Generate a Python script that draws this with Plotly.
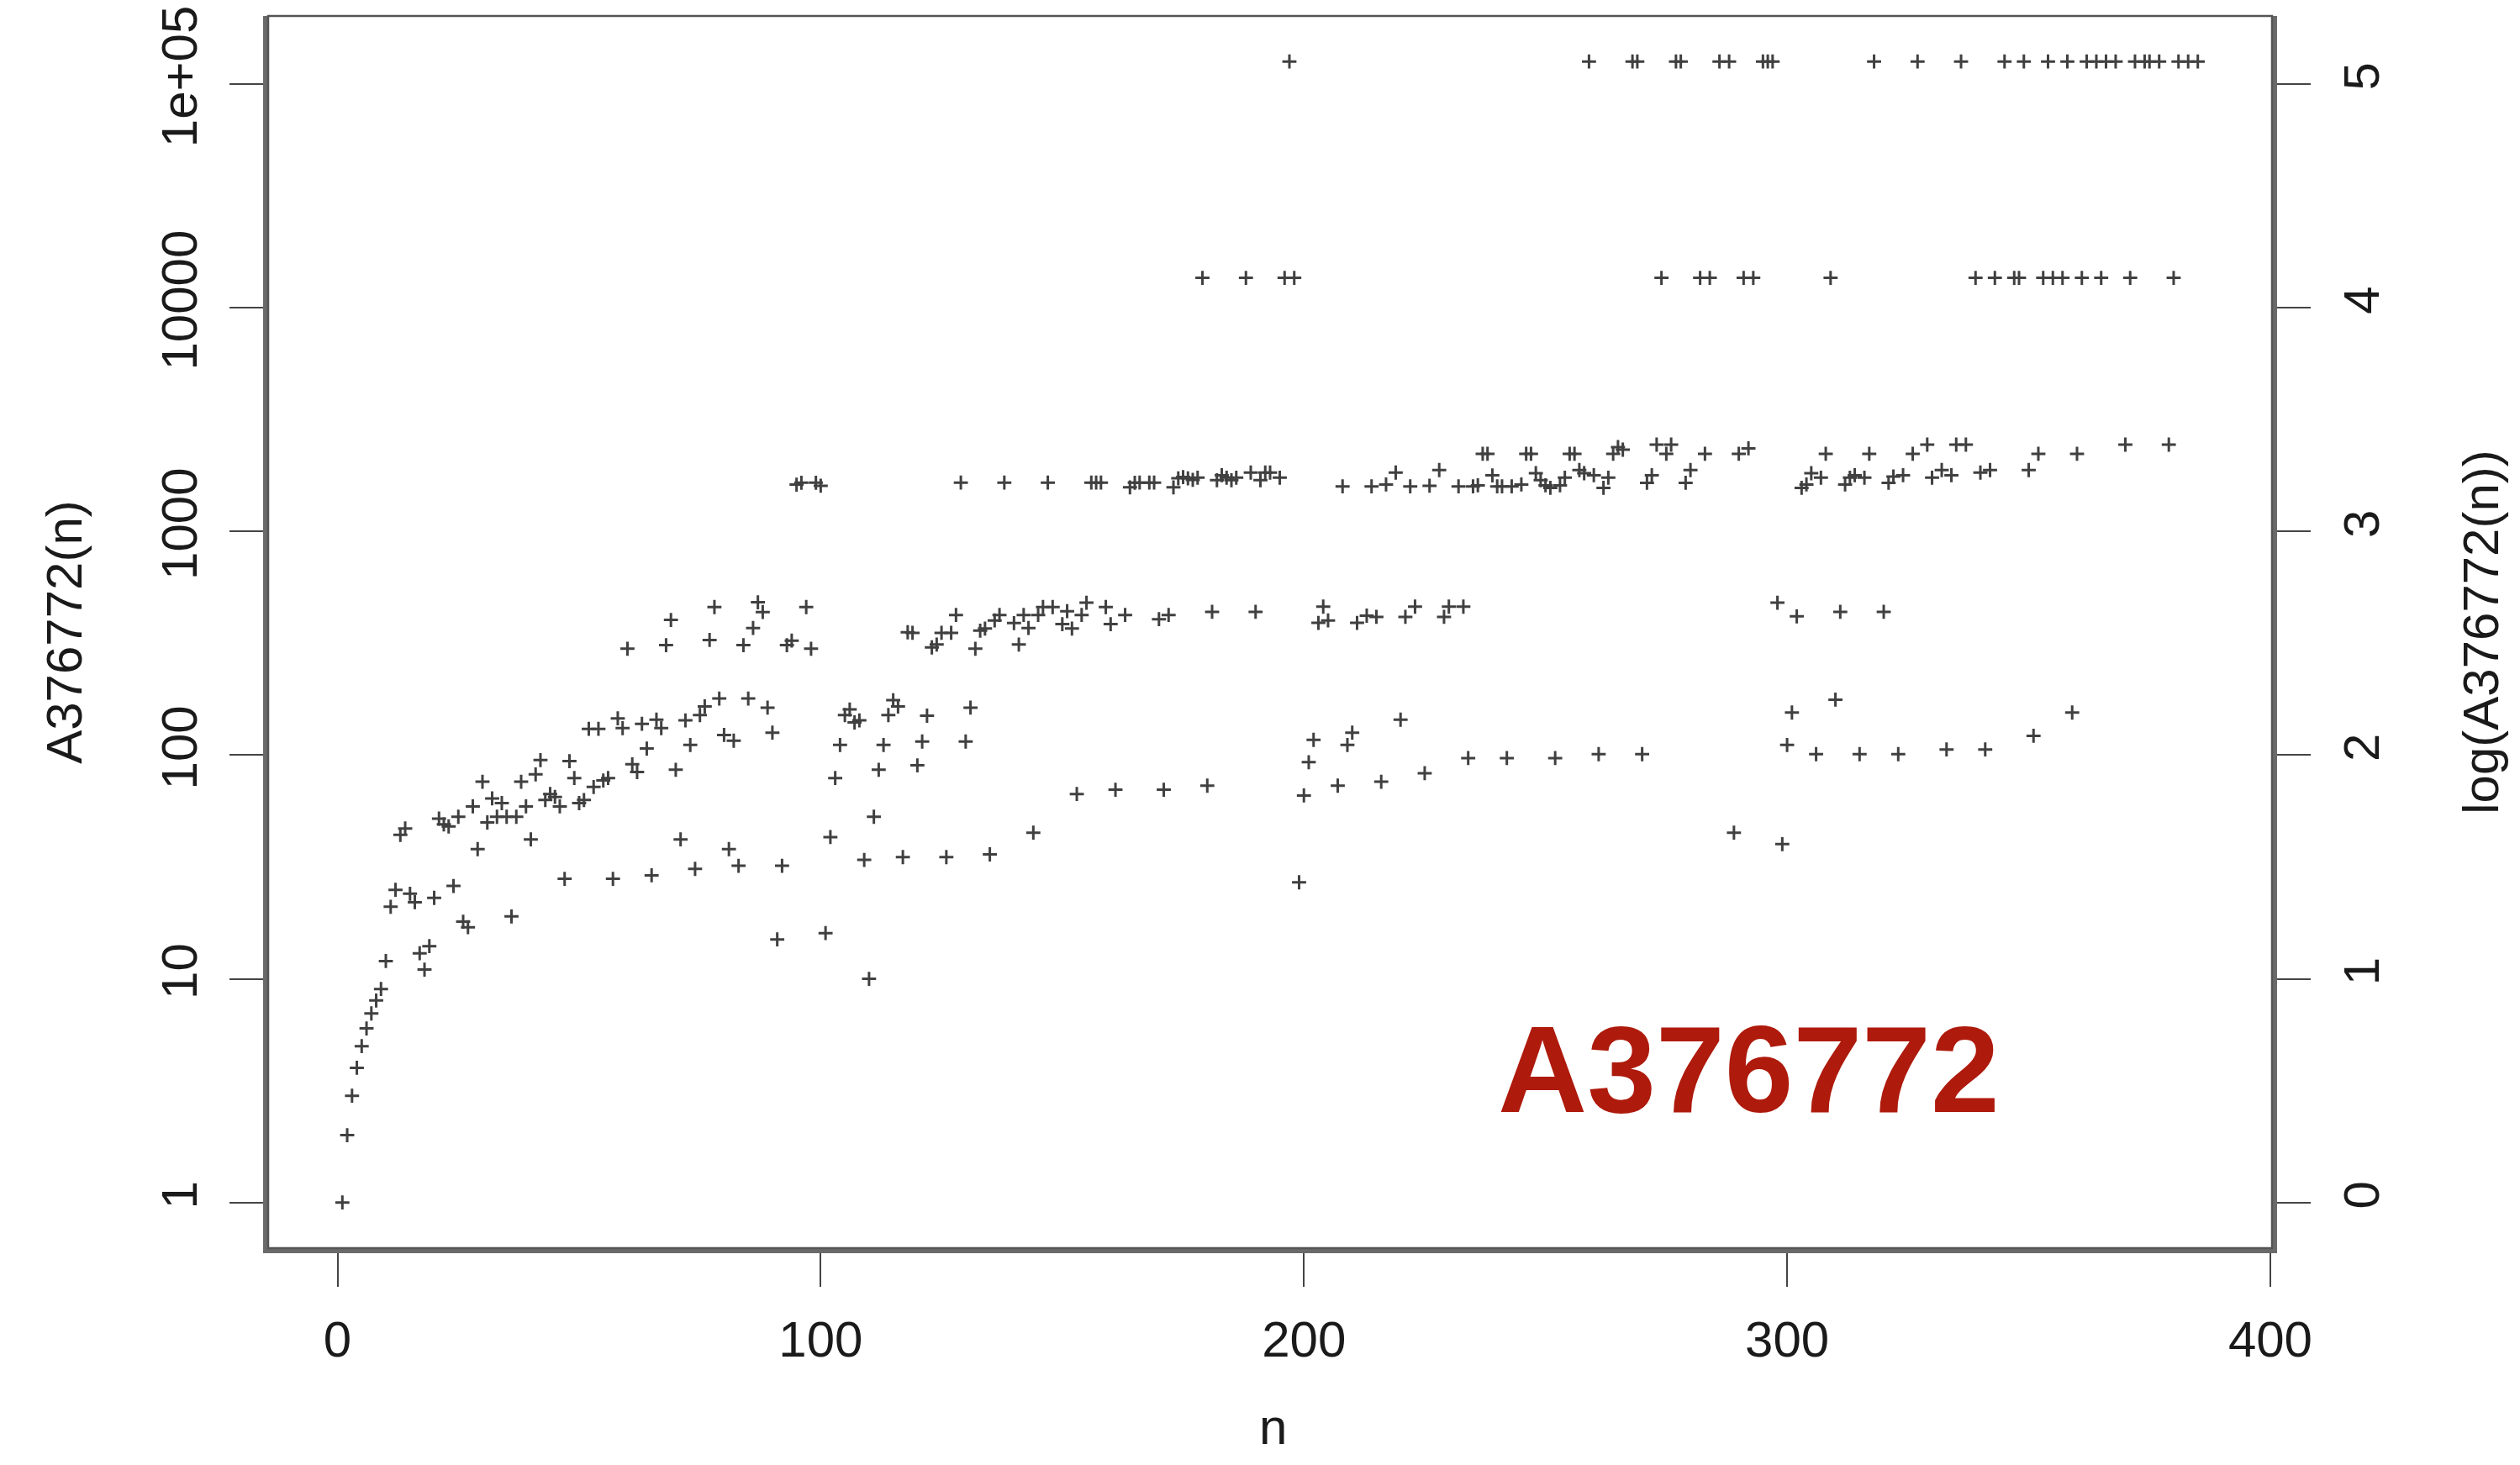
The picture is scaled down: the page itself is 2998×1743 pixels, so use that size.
import plotly.graph_objects as go

# Index n and value A376772(n)
n_index = [
    1, 2, 3, 4, 5, 6, 7, 8, 9, 10, 11, 12, 13, 14, 15, 16, 17, 18, 19, 20,
    21, 22, 23, 24, 25, 26, 27, 28, 29, 30, 31, 32, 33, 34, 35, 36, 37, 38, 39, 40,
    41, 42, 43, 44, 45, 46, 47, 48, 49, 50, 51, 52, 53, 54, 55, 56, 57, 58, 59, 60,
    61, 62, 63, 64, 65, 66, 67, 68, 69, 70, 71, 72, 73, 74, 75, 76, 77, 78, 79, 80,
    81, 82, 83, 84, 85, 86, 87, 88, 89, 90, 91, 92, 93, 94, 95, 96, 97, 98, 99, 100,
    101, 102, 103, 104, 105, 106, 107, 108, 109, 110, 111, 112, 113, 114, 115, 116, 117, 118,
    119, 120, 121, 122, 123, 124, 125, 126, 127, 128, 129, 130, 131, 132, 133, 134, 135, 136, 137, 138,
    140, 141, 142, 143, 144, 145, 146, 147, 148, 150, 151, 152, 153, 154, 155, 156, 157, 158, 159, 160,
    161, 163, 164, 165, 166, 168, 169, 170, 171, 172, 173, 174, 175, 176, 177, 178, 179, 180,
    181, 182, 183, 184, 185, 186, 188, 189, 190, 191, 192, 193, 195, 196, 197, 198, 199, 200,
    201, 202, 203, 204, 205, 207, 208, 209, 210, 211, 213, 214, 215, 216, 217, 219, 220,
    221, 222, 223, 225, 226, 228, 229, 230, 232, 233, 234, 235,
    236, 237, 238, 239, 240, 241, 242, 243, 245, 246, 247, 248, 249, 250, 251, 252, 253, 254, 255, 256,
    257, 258, 259, 260, 261, 262, 263, 264, 265, 266, 268, 269, 270, 271, 272, 273, 274, 275, 276, 277,
    278, 279, 280, 282, 283, 284, 286, 288, 289, 290, 291, 292, 293, 295, 296, 297,
    298, 299, 300, 301, 302, 303, 304, 305, 306, 307, 308, 309, 310, 311, 312, 313, 314, 315, 316, 317,
    318, 320, 321, 322, 323, 324, 326, 327, 329, 330, 332, 333, 334, 335, 336, 337, 339, 340, 341, 342,
    343, 345, 347, 348, 349, 350, 351, 352, 353, 354, 355, 357, 358, 359, 360, 361, 362, 364, 365, 366,
    368, 370, 371, 372, 374, 375, 377, 379, 380, 381, 383, 385,
]

a_value = [
    1, 2, 3, 4, 5, 6, 7, 8, 9, 12, 21, 25, 44, 47, 24, 22, 13, 11, 14, 23,
    52, 49, 48, 26, 53, 18, 17, 59, 38, 76, 50, 64, 53, 61, 53, 19, 53, 76, 59, 42,
    82, 95, 63, 67, 65, 59, 28, 94, 79, 61, 63, 131, 72, 131, 77, 79, 28, 146, 132, 299,
    91, 84, 138, 107, 29, 144, 132, 310, 402, 86, 42, 143, 111, 31, 151, 165, 327, 459, 179, 123,
    38, 116, 32, 310, 179, 370, 482, 436, 163, 126, 15, 32, 310, 325, 1618, 1650, 459, 299, 1650, 1600,
    16, 43, 79, 111, 151, 160, 140, 143, 34, 10, 53, 86, 111, 151, 176, 165, 35, 354,
    352, 90, 115, 150, 303, 312, 352, 35, 352, 423, 1652, 115, 163, 299, 360, 368, 36, 400, 423, 1652,
    389, 312, 423, 370, 45, 423, 459, 1652, 459, 385, 440, 368, 67, 423, 480, 1652, 1652, 1652, 459, 385,
    70, 423, 1573, 1650, 1652, 1652, 1652, 405, 70, 423, 1573, 1727, 1750, 1727, 1700, 1738, 13590, 73,
    437, 1693, 1783, 1738, 1693, 1738, 13590, 1832, 437, 1693, 1832, 1832, 1738, 13590, 126000, 13590, 27, 66,
    93, 117, 390, 461, 400, 73, 1589, 111, 126, 390, 420, 1589, 415, 76, 1620, 1832, 144,
    415, 1589, 461, 83, 1600, 1880, 415, 461, 1589, 461, 97, 1589,
    1606, 2223, 2223, 1780, 1589, 1589, 97, 1589, 1620, 2223, 2223, 1820, 1693, 1606, 1565, 97, 1606, 1738, 2223, 2223,
    1880, 1820, 126000, 1783, 101, 1565, 1738, 2223, 2382, 2319, 126000, 126000, 101, 1649, 1783, 2443, 13590, 2223, 2443, 126000,
    126000, 1649, 1880, 13590, 2223, 13590, 126000, 126000, 45, 2223, 13590, 2350, 13590, 126000, 126000, 126000,
    480, 40, 111, 155, 417, 1565, 1620, 1820, 101, 1738, 2223, 13590, 177, 437, 1620, 1738, 1783, 101, 1738, 2223,
    126000, 437, 1649, 1760, 101, 1783, 2223, 126000, 2443, 1738, 1880, 106, 1783, 2443, 126000, 2443, 13590, 1832, 106, 1880,
    13590, 126000, 13590, 13590, 126000, 1880, 122, 2223, 13590, 126000, 13590, 13590, 126000, 155, 2223, 13590, 126000, 126000, 13590, 126000,
    126000, 2443, 13590, 126000, 126000, 126000, 126000, 2443, 13590, 126000, 126000, 126000,
]

x_ticks = [0, 100, 200, 300, 400]
y_ticks = [1, 10, 100, 1000, 10000, 100000]
y_ticktext = ["1", "10", "100", "1000", "10000", "1e+05"]
y2_ticks = [0, 1, 2, 3, 4, 5]

FONT = "Liberation Sans, Arial, Helvetica, sans-serif"
TXT = "#1a1a1a"

fig = go.Figure()
fig.add_trace(go.Scatter(
    x=n_index, y=a_value, mode="markers",
    marker=dict(symbol="cross-thin", size=12, line=dict(width=3, color="#404040")),
    showlegend=False,
))
fig.add_trace(go.Scatter(x=[None], y=[None], yaxis="y2", showlegend=False, hoverinfo="skip"))

fig.update_layout(
    width=2998, height=1743,
    margin=dict(l=319, r=295, t=19, b=258),
    paper_bgcolor="white", plot_bgcolor="white",
    font=dict(family=FONT, size=60, color=TXT),
    xaxis=dict(
        range=[-14.36, 400.36], tickvals=x_ticks, ticktext=[str(v) for v in x_ticks],
        showgrid=False, zeroline=False, automargin=False,
        showline=True, linewidth=6, linecolor="#6a6a6a",
        ticks="outside", ticklen=40, tickwidth=2, tickcolor="#444",
        ticklabelstandoff=11,
        tickfont=dict(size=60, color=TXT),
    ),
    yaxis=dict(
        type="log", range=[-0.204, 5.304],
        tickvals=y_ticks, ticktext=y_ticktext, tickangle=-90,
        showgrid=False, zeroline=False, automargin=False,
        showline=True, linewidth=6, linecolor="#6a6a6a",
        ticks="outside", ticklen=40, tickwidth=2, tickcolor="#444",
        ticklabelstandoff=15,
        tickfont=dict(size=60, color=TXT),
        title=dict(text="A376772(n)", font=dict(size=60, color=TXT), standoff=65),
    ),
    yaxis2=dict(
        overlaying="y", side="right", range=[-0.204, 5.304],
        tickvals=y2_ticks, ticktext=[str(v) for v in y2_ticks], tickangle=-90,
        showgrid=False, zeroline=False, automargin=False,
        showline=True, linewidth=6, linecolor="#6a6a6a",
        ticks="outside", ticklen=40, tickwidth=2, tickcolor="#444",
        ticklabelstandoff=9,
        tickfont=dict(size=60, color=TXT),
        title=dict(text="log(A376772(n))", font=dict(size=60, color=TXT), standoff=90),
    ),
    shapes=[dict(type="rect", xref="paper", yref="paper", x0=0, x1=1, y0=0, y1=1,
                 line=dict(color="#555", width=2.5), layer="above")],
    annotations=[
        dict(
            text="<b>A376772</b>", xref="paper", yref="paper", x=0.739, y=0.145,
            xanchor="center", yanchor="middle", showarrow=False,
            font=dict(family="Liberation Sans, Arial, sans-serif", size=147, color="#AE1A0C"),
        ),
        dict(
            text="n", xref="paper", yref="paper", x=0.5015, y=-0.121,
            xanchor="center", yanchor="top", showarrow=False,
            font=dict(size=60, color=TXT),
        ),
    ],
)

fig.write_html("out.html")
